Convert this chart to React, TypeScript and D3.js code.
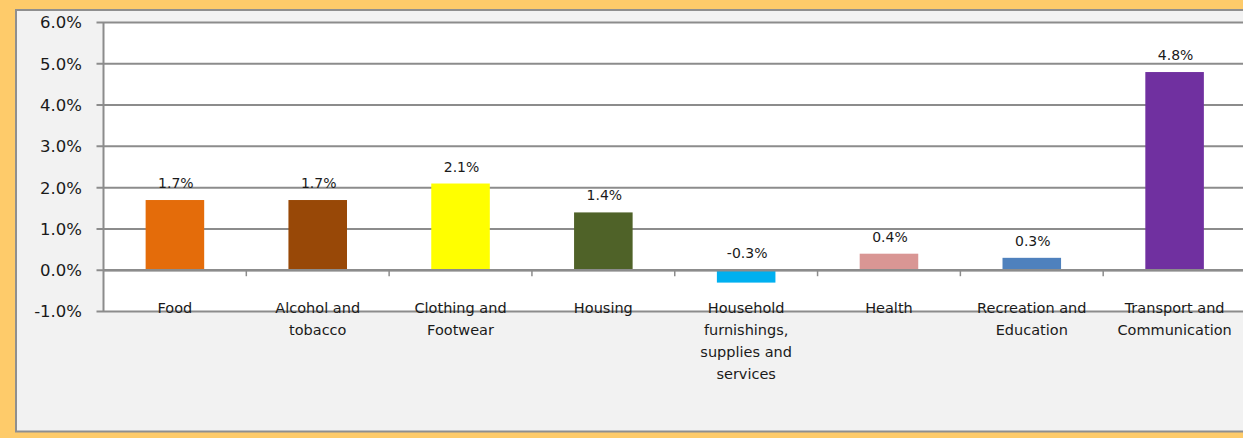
import React, { useEffect, useRef } from 'react';
import * as d3 from 'd3';

const categories: string[][] = [
  ['Food'],
  ['Alcohol and', 'tobacco'],
  ['Clothing and', 'Footwear'],
  ['Housing'],
  ['Household', 'furnishings,', 'supplies and', 'services'],
  ['Health'],
  ['Recreation and', 'Education'],
  ['Transport and', 'Communication'],
];
const values: number[] = [1.7, 1.7, 2.1, 1.4, -0.3, 0.4, 0.3, 4.8];
const barColors: string[] = ['#E46C0A', '#984807', '#FFFF00', '#4F6228', '#00B0F0', '#D99694', '#4F81BD', '#7030A0'];
const yTicks: number[] = [-1, 0, 1, 2, 3, 4, 5, 6];

const W = 1243;
const H = 438;

// plain hyphen for negatives, like the original
const pct = (d: number) => d.toFixed(1) + '%';

const App: React.FC = () => {
  const svgRef = useRef<SVGSVGElement>(null);

  useEffect(() => {
    if (!svgRef.current) return;
    const svg = d3.select(svgRef.current);
    svg.selectAll('*').remove();

    const font = 'DejaVu Sans, sans-serif';
    const grid = '#8c8c8c';
    const left = 103.5;
    const right = 1246;
    const top = 22.5;
    const bottom = 311.5;

    // outer frame
    svg.append('rect').attr('width', W).attr('height', H).attr('fill', '#FECB6A');
    svg
      .append('rect')
      .attr('x', 16)
      .attr('y', 10)
      .attr('width', W)
      .attr('height', 421.5)
      .attr('fill', '#F2F2F2')
      .attr('stroke', '#8f8f8f')
      .attr('stroke-width', 2);

    const x = d3
      .scaleBand<number>()
      .domain(values.map((_, i) => i))
      .range([left, right])
      .padding(0);
    const y = d3.scaleLinear().domain([-1, 6]).range([bottom, top]);

    svg
      .append('rect')
      .attr('x', left)
      .attr('y', top)
      .attr('width', right - left)
      .attr('height', bottom - top)
      .attr('fill', 'white');

    // gridlines + y ticks
    const g = svg.append('g');
    g.selectAll('.grid')
      .data(yTicks)
      .enter()
      .append('line')
      .attr('x1', left - 7)
      .attr('x2', right)
      .attr('y1', (d) => y(d))
      .attr('y2', (d) => y(d))
      .attr('stroke', grid)
      .attr('stroke-width', 2);

    g.selectAll('.ytick')
      .data(yTicks)
      .enter()
      .append('text')
      .attr('x', 82)
      .attr('y', (d) => y(d))
      .attr('dy', '0.36em')
      .attr('text-anchor', 'end')
      .attr('font-family', font)
      .attr('font-size', 16.5)
      .attr('fill', '#1a1a1a')
      .text((d) => pct(d));

    // left axis
    g.append('line')
      .attr('x1', left)
      .attr('x2', left)
      .attr('y1', top)
      .attr('y2', bottom)
      .attr('stroke', grid)
      .attr('stroke-width', 2);

    // bars
    const bw = x.bandwidth() * 0.41;
    g.selectAll('.bar')
      .data(values)
      .enter()
      .append('rect')
      .attr('x', (_, i) => (x(i) || 0) + x.bandwidth() / 2 - bw / 2)
      .attr('y', (d) => y(Math.max(d, 0)))
      .attr('width', bw)
      .attr('height', (d) => Math.abs(y(d) - y(0)))
      .attr('fill', (_, i) => barColors[i]);

    // zero axis with ticks
    g.append('line')
      .attr('x1', left)
      .attr('x2', right)
      .attr('y1', y(0))
      .attr('y2', y(0))
      .attr('stroke', grid)
      .attr('stroke-width', 2.5);
    g.selectAll('.xtick')
      .data(d3.range(1, values.length + 1))
      .enter()
      .append('line')
      .attr('x1', (i) => left + i * x.step())
      .attr('x2', (i) => left + i * x.step())
      .attr('y1', y(0))
      .attr('y2', y(0) + 6)
      .attr('stroke', grid)
      .attr('stroke-width', 1.5);

    // value labels
    g.selectAll('.vlabel')
      .data(values)
      .enter()
      .append('text')
      .attr('x', (_, i) => (x(i) || 0) + x.bandwidth() / 2 + 1)
      .attr('y', (d) => y(Math.max(d, 0)) - 12)
      .attr('text-anchor', 'middle')
      .attr('font-family', font)
      .attr('font-size', 14)
      .attr('fill', '#1a1a1a')
      .text((d) => pct(d));

    // category labels
    categories.forEach((lines, i) => {
      const t = g
        .append('text')
        .attr('text-anchor', 'middle')
        .attr('font-family', font)
        .attr('font-size', 14.5)
        .attr('fill', '#1a1a1a');
      lines.forEach((line, j) => {
        t.append('tspan')
          .attr('x', (x(i) || 0) + x.bandwidth() / 2)
          .attr('y', 313 + j * 22)
          .text(line);
      });
    });
  }, []);

  return <svg ref={svgRef} width={W} height={H} style={{ position: 'absolute', left: 0, top: 0 }} />;
};

export default App;
